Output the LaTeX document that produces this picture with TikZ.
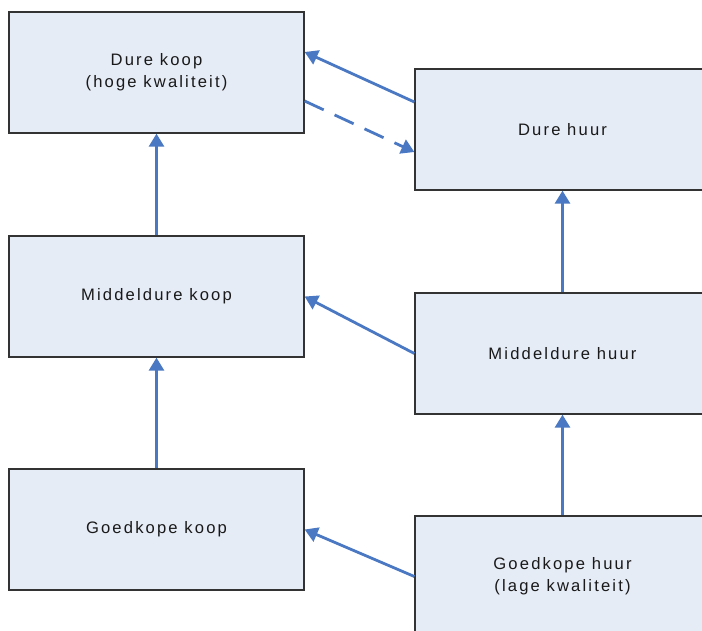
\documentclass[tikz,border=0pt]{standalone}
\usepackage{fontspec}
\setmainfont{Liberation Sans}[LetterSpace=13]
\usetikzlibrary{arrows.meta}
\definecolor{boxfill}{HTML}{E6ECF6}
\definecolor{boxline}{HTML}{333333}
\definecolor{arrowblue}{HTML}{4A78C2}
\tikzset{
  box/.style={draw=boxline, line width=1.3pt, fill=boxfill, minimum width=295pt, minimum height=121pt, inner sep=0pt, align=center, text=black!90, font=\fontsize{16.6pt}{22pt}\selectfont},
  conn/.style={draw=arrowblue, line width=2.8pt, -{Triangle[length=13pt,width=15pt]}},
  dashconn/.style={conn, dash pattern=on 21pt off 12pt}
}
\begin{document}
\begin{tikzpicture}[x=1pt,y=-1pt]
\useasboundingbox (0,0) rectangle (702,630);
\begin{scope}
\clip (0,0) rectangle (702,630);
\node[box] (dk) at (156.5,72.5) {Dure koop\\(hoge kwaliteit)};
\node[box] (mk) at (156.5,296.5) {Middeldure koop};
\node[box] (gk) at (156.5,529.5) {Goedkope koop};
\node[box] (dh) at (562.5,129.5) {Dure huur};
\node[box] (mh) at (562.5,353.5) {Middeldure huur};
\node[box] (gh) at (562.5,576.5) {Goedkope huur\\(lage kwaliteit)};
\end{scope}
\draw[conn] (mk.north) -- (dk.south);
\draw[conn] (gk.north) -- (mk.south);
\draw[conn] (mh.north) -- (dh.south);
\draw[conn] (gh.north) -- (mh.south);
\draw[conn] ([yshift=27.5pt]dh.west) -- ([yshift=20.5pt]dk.east);
\draw[dashconn] ([yshift=-28.5pt]dk.east) -- ([yshift=-22.5pt]dh.west);
\draw[conn] (mh.west) -- (mk.east);
\draw[conn] (gh.west) -- (gk.east);
\end{tikzpicture}
\end{document}
